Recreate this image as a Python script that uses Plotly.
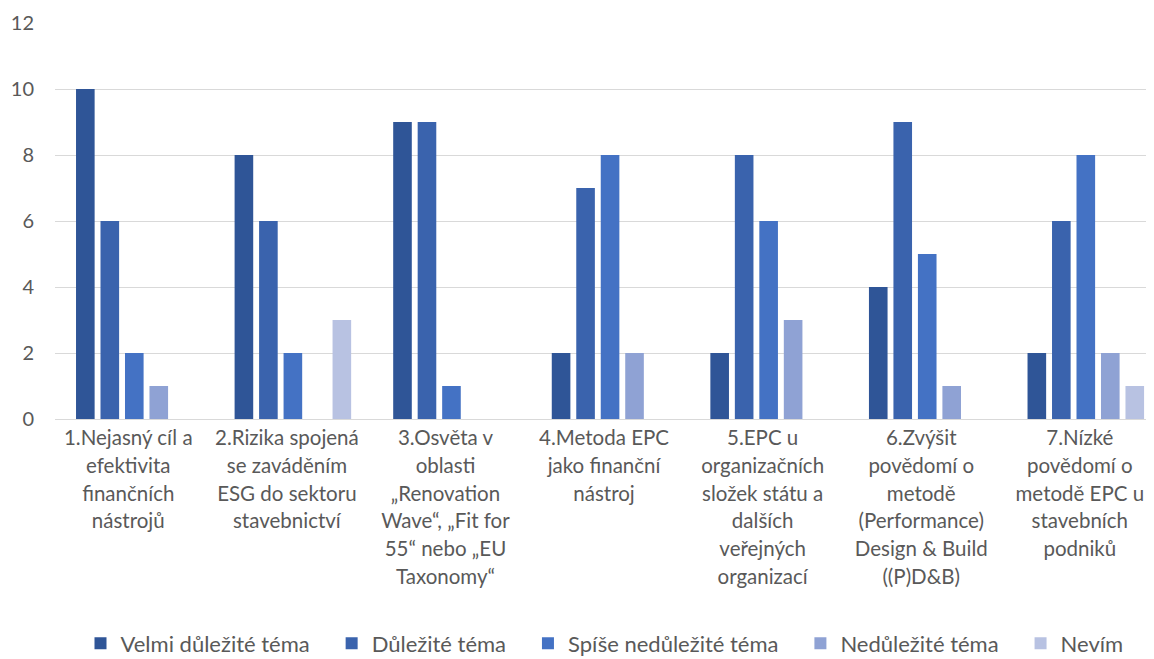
import plotly.graph_objects as go

categories = [
    ["1.Nejasný cíl a", "efektivita", "finančních", "nástrojů"],
    ["2.Rizika spojená", "se zaváděním", "ESG do sektoru", "stavebnictví"],
    ["3.Osvěta v", "oblasti", "„Renovation", "Wave“, „Fit for", "55“ nebo „EU", "Taxonomy“"],
    ["4.Metoda EPC", "jako finanční", "nástroj"],
    ["5.EPC u", "organizačních", "složek státu a", "dalších", "veřejných", "organizací"],
    ["6.Zvýšit", "povědomí o", "metodě", "(Performance)", "Design &amp; Build", "((P)D&amp;B)"],
    ["7.Nízké", "povědomí o", "metodě EPC u", "stavebních", "podniků"],
]

series_names = ["Velmi důležité téma", "Důležité téma", "Spíše nedůležité téma", "Nedůležité téma", "Nevím"]
velmi_dulezite = [10, 8, 9, 2, 2, 4, 2]
dulezite = [6, 6, 9, 7, 8, 9, 6]
spise_nedulezite = [2, 2, 1, 8, 6, 5, 8]
nedulezite = [1, 0, 0, 2, 3, 1, 2]
nevim = [0, 3, 0, 0, 0, 0, 1]
series_values = [velmi_dulezite, dulezite, spise_nedulezite, nedulezite, nevim]
colors = ["#2F5597", "#3A63AD", "#4472C4", "#8FA2D4", "#B8C2E2"]

y_ticks = [0, 2, 4, 6, 8, 10, 12]

FONT = "Lato, Carlito, Calibri, sans-serif"
TXT = "#595959"

x_idx = list(range(len(categories)))
ticktext = ["<br>".join('<span style="font-size:20.5px">%s</span>' % ln for ln in lines) for lines in categories]

fig = go.Figure()
n = len(series_names)
for i, (name, vals, col) in enumerate(zip(series_names, series_values, colors)):
    label = name + ("\u00a0" * 3 if i < n - 1 else "")
    fig.add_trace(go.Bar(
        x=x_idx, y=vals, name=label,
        marker=dict(color=col, line=dict(width=0)),
    ))

fig.update_layout(
    width=1146, height=651,
    margin=dict(l=47, r=0, t=15, b=240),
    paper_bgcolor="white", plot_bgcolor="white",
    barmode="group", bargap=0.228, bargroupgap=0.24,
    font=dict(family=FONT, color=TXT),
    showlegend=True,
    legend=dict(
        orientation="h", x=0.5, xanchor="center",
        yref="container", y=0.024, yanchor="middle",
        font=dict(size=22, color=TXT, family=FONT),
        itemwidth=30,
    ),
)
fig.update_xaxes(
    range=[-0.5, 6.43], tickmode="array", tickvals=x_idx, ticktext=ticktext,
    tickfont=dict(size=21.3, color=TXT, family=FONT), tickangle=0,
    showgrid=False, showline=False, ticks="", ticklabelstandoff=4,
    ticklabelshift=-6,
)
fig.update_yaxes(
    range=[0, 12], tickmode="array", tickvals=y_ticks,
    tickfont=dict(size=20, color=TXT, family=FONT),
    showgrid=True, gridcolor="#D9D9D9", gridwidth=1,
    zeroline=True, zerolinecolor="#D9D9D9", zerolinewidth=1,
    showline=False, ticks="", ticklabelstandoff=20,
)

fig.write_html("out.html")
